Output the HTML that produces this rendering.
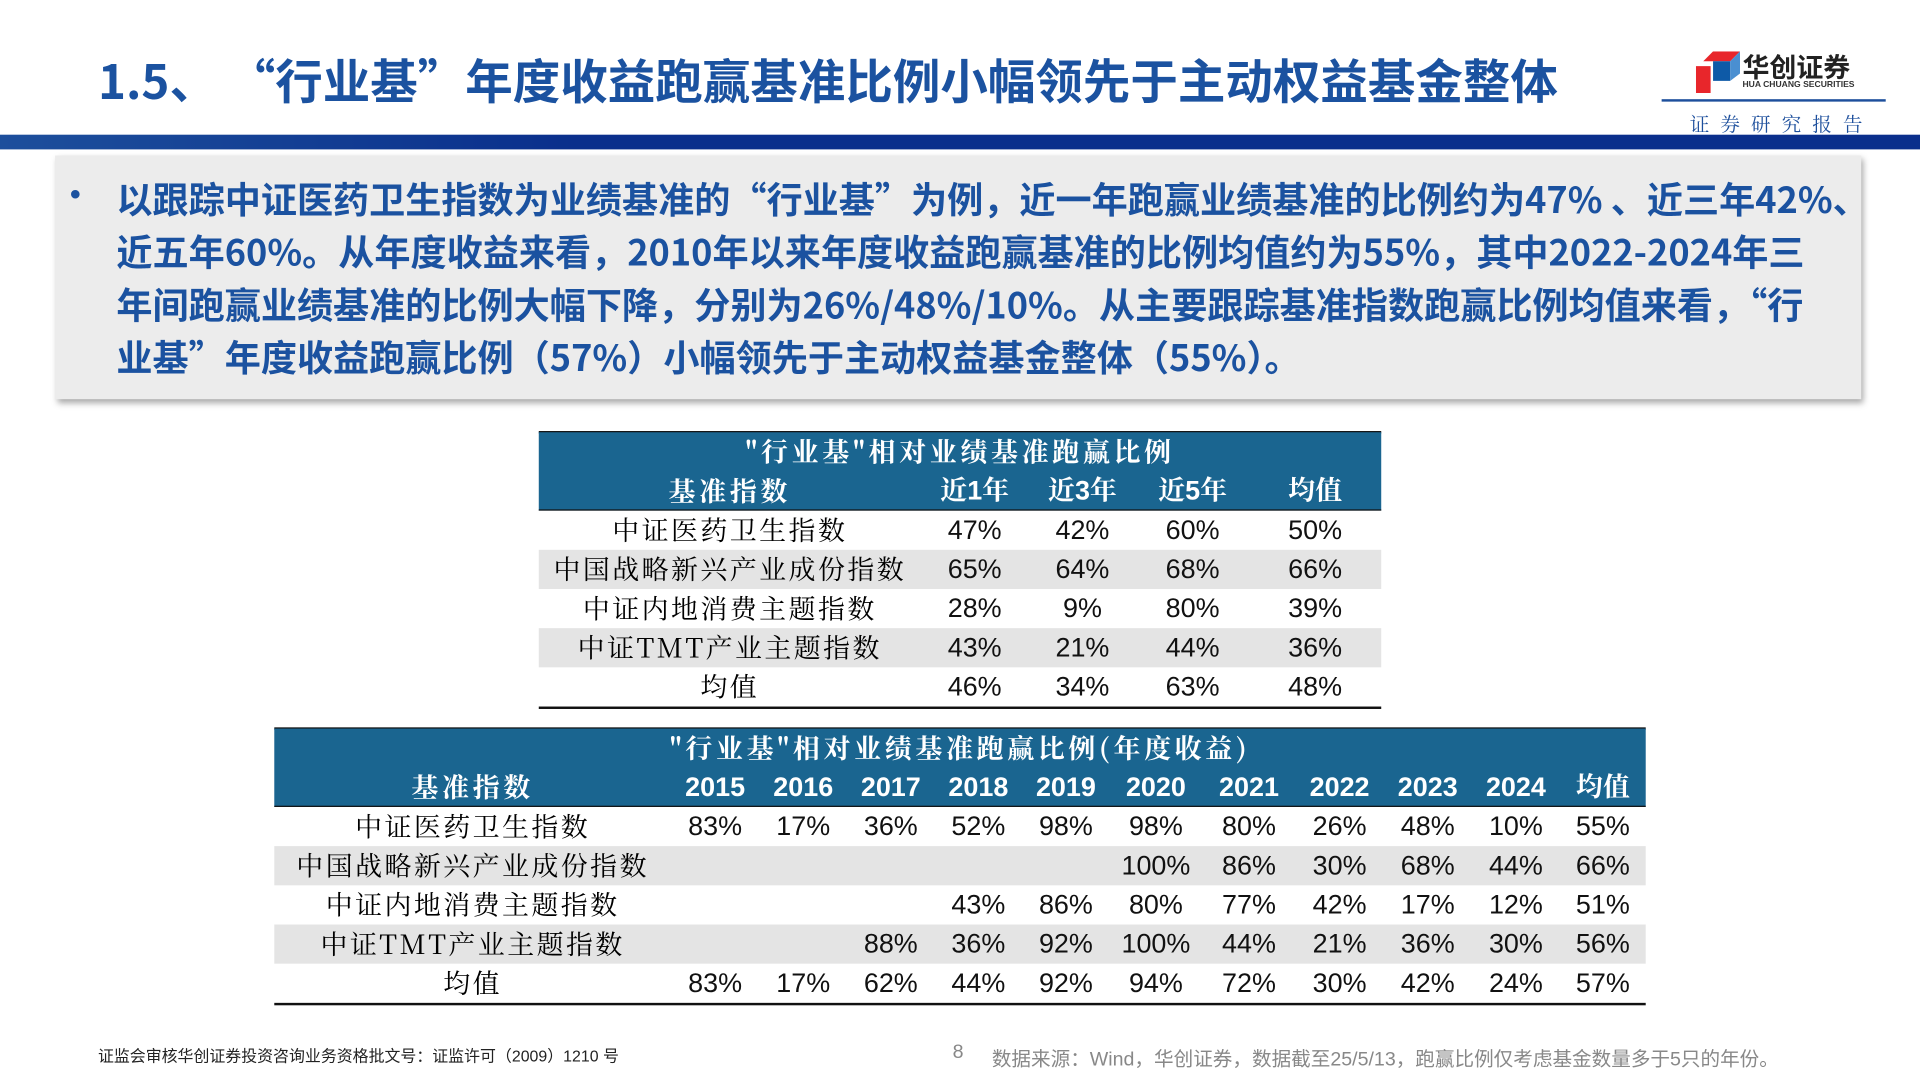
<!DOCTYPE html>
<html><head><meta charset="utf-8">
<style>
html,body{margin:0;padding:0;width:1920px;height:1080px;overflow:hidden;background:#fff;}
#wrap{position:absolute;left:0;top:0;width:1568px;height:882px;transform:scale(1.22449);transform-origin:0 0;font-family:"Liberation Sans","Noto Sans CJK SC",sans-serif;}
.abs{position:absolute;white-space:nowrap;}
#title{left:80px;top:40px;font-size:38.8px;font-weight:bold;color:#1b52a0;font-family:"Noto Sans CJK SC",sans-serif;line-height:50px;}
#bar{left:0;top:110px;width:1568px;height:12px;background:linear-gradient(90deg,#1d4f9c,#0a2f8c 30%,#0a2f8c);}
#box{left:45px;top:127px;width:1475px;height:199px;background:#ececec;box-shadow:2px 3px 5px rgba(0,0,0,0.35);}
.ln{position:absolute;left:50px;font-size:29.5px;font-weight:bold;color:#1b52a0;font-family:"Noto Sans CJK SC",sans-serif;white-space:nowrap;line-height:43px;}
.cell{position:absolute;text-align:center;line-height:32px;font-size:22px;white-space:nowrap;}
.nm{font-family:"Noto Serif CJK SC",serif;letter-spacing:2px;}
.hd{color:#fff;font-family:"Noto Serif CJK SC",serif;font-weight:bold;}
.num{font-family:"Liberation Sans",sans-serif;color:#111;}
.foot{font-size:13px;color:#222;font-family:"Liberation Sans","Noto Sans CJK SC",sans-serif;}
</style></head><body>
<div id="wrap">
<div class="abs" id="title">1.5、 “行业基”年度收益跑赢基准比例小幅领先于主动权益基金整体</div>
<div class="abs" style="left:1385px;top:42px;width:140px;height:36px;">
  <svg width="36" height="34" style="position:absolute;left:0;top:0"><polygon points="6,8 14,0 36,0 28,8" fill="#e8262b"/><polygon points="0,12 12,12 12,34 0,34" fill="#e8262b"/><polygon points="14,8 28,8 28,24 14,24" fill="#0e5aa7"/><polygon points="28,8 36,0 36,18 28,24" fill="#4a8fd1"/></svg>
  <div class="abs" style="left:38px;top:-4px;font-size:22px;font-weight:bold;color:#222;font-family:'Noto Sans CJK SC',sans-serif;">华创证券</div>
  <div class="abs" style="left:38px;top:24px;font-size:7px;font-weight:bold;color:#333;">HUA CHUANG SECURITIES</div>
</div>
<div class="abs" style="left:1357px;top:81px;width:183px;height:2px;background:#1d4f9c;"></div>
<div class="abs" style="left:1380px;top:89px;font-size:16px;letter-spacing:9px;color:#1d4f9c;font-family:'Noto Serif CJK SC',serif;">证券研究报告</div>
<div class="abs" id="bar"></div>
<div class="abs" id="box">
  <div class="abs" style="left:12px;top:16px;font-size:26px;color:#1b52a0;">•</div>
  <div class="ln" style="top:14px">以跟踪中证医药卫生指数为业绩基准的“行业基”为例，近一年跑赢业绩基准的比例约为47% 、近三年42%、</div>
  <div class="ln" style="top:57px">近五年60%。从年度收益来看，2010年以来年度收益跑赢基准的比例均值约为55%，其中2022-2024年三</div>
  <div class="ln" style="top:100px">年间跑赢业绩基准的比例大幅下降，分别为26%/48%/10%。从主要跟踪基准指数跑赢比例均值来看，“行</div>
  <div class="ln" style="top:143px">业基”年度收益跑赢比例（57%）小幅领先于主动权益基金整体（55%）。</div>
</div>
<div class="abs" id="t1" style="left:440px;top:352px;width:688px;height:227px;"></div>
<div class="abs" id="t2" style="left:224px;top:594px;width:1120px;height:227px;"></div>
<div class="abs foot" style="left:80px;top:852px;">证监会审核华创证券投资咨询业务资格批文号：证监许可（2009）1210 号</div>
<div class="abs" style="left:778px;top:851px;font-size:16px;color:#888;">8</div>
<div class="abs" style="left:810px;top:851px;font-size:16px;color:#888;">数据来源：Wind，华创证券，数据截至25/5/13，跑赢比例仅考虑基金数量多于5只的年份。</div>
</div>
<script>
const t1Title='"行业基"相对业绩基准跑赢比例';
const t1Cols=['近1年','近3年','近5年','均值'];
const t1Names=['中证医药卫生指数','中国战略新兴产业成份指数','中证内地消费主题指数','中证TMT产业主题指数','均值'];
const t1Vals=[['47%','42%','60%','50%'],['65%','64%','68%','66%'],['28%','9%','80%','39%'],['43%','21%','44%','36%'],['46%','34%','63%','48%']];
const t2Title='"行业基"相对业绩基准跑赢比例(年度收益)';
const t2Cols=['2015','2016','2017','2018','2019','2020','2021','2022','2023','2024','均值'];
const t2Names=['中证医药卫生指数','中国战略新兴产业成份指数','中证内地消费主题指数','中证TMT产业主题指数','均值'];
const t2Vals=[
['83%','17%','36%','52%','98%','98%','80%','26%','48%','10%','55%'],
['','','','','','100%','86%','30%','68%','44%','66%'],
['','','','43%','86%','80%','77%','42%','17%','12%','51%'],
['','','88%','36%','92%','100%','44%','21%','36%','30%','56%'],
['83%','17%','62%','44%','92%','94%','72%','30%','42%','24%','57%']];
function mk(parent,cls,l,t,w,h,txt,name,bg){
  const d=document.createElement('div');
  d.className='cell '+cls;
  d.style.left=l+'px';d.style.top=t+'px';d.style.width=w+'px';d.style.height=h+'px';
  if(bg)d.style.background=bg;
  d.textContent=txt;
  
  
  parent.appendChild(d);return d;
}
function build(id,title,cols,names,vals,W,nameW,colWs){
  const p=document.getElementById(id);
  mk(p,'','0',0,W,1,'','top-border','#111').style.height='2px';
  mk(p,'',0,1,W,64,'','header-bg','#1a6590');
  const tt=mk(p,'hd',0,1,W,32,title,'table-title');tt.style.letterSpacing='3px';
  mk(p,'hd',0,33,nameW,32,'基准指数','col-header-name').style.letterSpacing='3px';
  let x=nameW;
  cols.forEach((c,i)=>{const e=mk(p,'hd',x,33,colWs[i],32,c,'col-header-'+i);e.style.fontFamily='"Liberation Sans","Noto Serif CJK SC",sans-serif';x+=colWs[i];});
  mk(p,'',0,64,W,1,'','header-rule','#111');
  names.forEach((n,r)=>{
    const y=65+r*32;
    if(r%2==1)mk(p,'',0,y,W,32,'','row-band-'+r,'#e4e4e4');
    mk(p,'nm',0,y,nameW,32,n,'row-name-'+r);
    let xx=nameW;
    vals[r].forEach((v,i)=>{mk(p,'num',xx,y,colWs[i],32,v,'cell-'+r+'-'+i);xx+=colWs[i];});
  });
  mk(p,'',0,65+names.length*32,W,2,'','bottom-border','#111');
}
build('t1',t1Title,t1Cols,t1Names,t1Vals,688,312,[88,88,92,108]);
build('t2',t2Title,t2Cols,t2Names,t2Vals,1120,324,[72,72,71,72,71,76,76,72,72,72,70]);
</script>
</body></html>
